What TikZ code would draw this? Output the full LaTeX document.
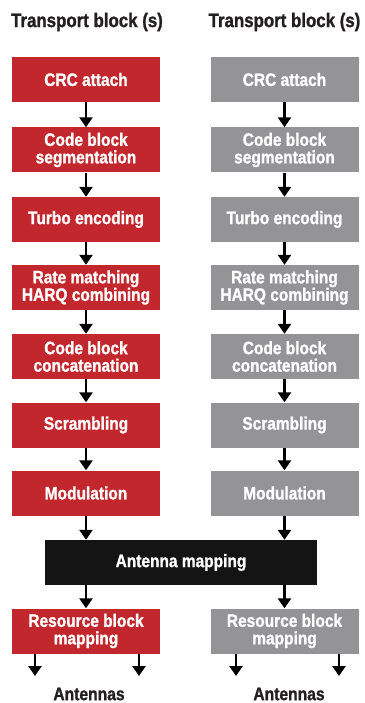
\documentclass[tikz,border=0pt]{standalone}
\usepackage{fontspec}
\setmainfont{Liberation Sans}[FakeStretch=0.86, BoldFeatures={FakeBold=1.2}]
\usetikzlibrary{arrows.meta}

\definecolor{chainred}{RGB}{193,39,45}
\definecolor{chaingray}{RGB}{148,148,151}
\definecolor{mapblack}{RGB}{20,20,20}
\definecolor{labelgray}{RGB}{35,31,32}

\tikzset{
  box/.style={minimum width=148pt, minimum height=45pt, inner sep=0pt, align=center,
    text=white, font=\fontsize{18}{17.5}\selectfont\bfseries},
  redbox/.style={box, fill=chainred},
  graybox/.style={box, fill=chaingray},
  flow/.style={line width=2.6pt, -{Triangle[width=13pt,length=10pt]}},
  heading/.style={text=labelgray, font=\fontsize{19.6}{20}\selectfont\bfseries},
  outlabel/.style={text=labelgray, font=\fontsize{18.2}{18}\selectfont\bfseries}
}

\begin{document}
\begin{tikzpicture}[x=1pt, y=-1pt]
\useasboundingbox (0,0) rectangle (364,703);

\node (titleL)[heading] at (87, 22) {Transport block (s)};
\node (titleR)[heading] at (284.5, 22) {Transport block (s)};

% first chain
\node (crcL)[redbox] at (86, 79.5) {CRC attach};
\node (segL)[redbox] at (86, 150) {Code block\\segmentation};
\node (turboL)[redbox] at (86, 219.5) {Turbo encoding};
\node (rateL)[redbox] at (86, 287.5) {Rate matching\\HARQ combining};
\node (concatL)[redbox] at (86, 356.5) {Code block\\concatenation};
\node (scramL)[redbox] at (86, 425) {Scrambling};
\node (modL)[redbox] at (86, 493) {Modulation};

% second chain
\node (crcR)[graybox] at (284.5, 79.5) {CRC attach};
\node (segR)[graybox] at (284.5, 150) {Code block\\segmentation};
\node (turboR)[graybox] at (284.5, 219.5) {Turbo encoding};
\node (rateR)[graybox] at (284.5, 287.5) {Rate matching\\HARQ combining};
\node (concatR)[graybox] at (284.5, 356.5) {Code block\\concatenation};
\node (scramR)[graybox] at (284.5, 425) {Scrambling};
\node (modR)[graybox] at (284.5, 493) {Modulation};

\node (antmap)[box, fill=mapblack, minimum width=272pt] at (181, 562.5) {Antenna mapping};

\node (resL)[redbox] at (86, 631) {Resource block\\mapping};
\node (resR)[graybox] at (284.5, 631) {Resource block\\mapping};

\node (antL)[outlabel] at (89, 694) {Antennas};
\node (antR)[outlabel] at (289, 694) {Antennas};

\coordinate (outL1) at (35, 676);
\coordinate (outL2) at (139, 676);
\coordinate (outR1) at (236, 676);
\coordinate (outR2) at (339, 676);

\draw[flow] (crcL) -- (segL);
\draw[flow] (segL) -- (turboL);
\draw[flow] (turboL) -- (rateL);
\draw[flow] (rateL) -- (concatL);
\draw[flow] (concatL) -- (scramL);
\draw[flow] (scramL) -- (modL);
\draw[flow] (modL) -- (modL |- antmap.north);

\draw[flow] (crcR) -- (segR);
\draw[flow] (segR) -- (turboR);
\draw[flow] (turboR) -- (rateR);
\draw[flow] (rateR) -- (concatR);
\draw[flow] (concatR) -- (scramR);
\draw[flow] (scramR) -- (modR);
\draw[flow] (modR) -- (modR |- antmap.north);

\draw[flow] (antmap.south -| resL) -- (resL);
\draw[flow] (antmap.south -| resR) -- (resR);

\draw[flow] (resL.south -| outL1) -- (outL1);
\draw[flow] (resL.south -| outL2) -- (outL2);
\draw[flow] (resR.south -| outR1) -- (outR1);
\draw[flow] (resR.south -| outR2) -- (outR2);
\end{tikzpicture}
\end{document}
